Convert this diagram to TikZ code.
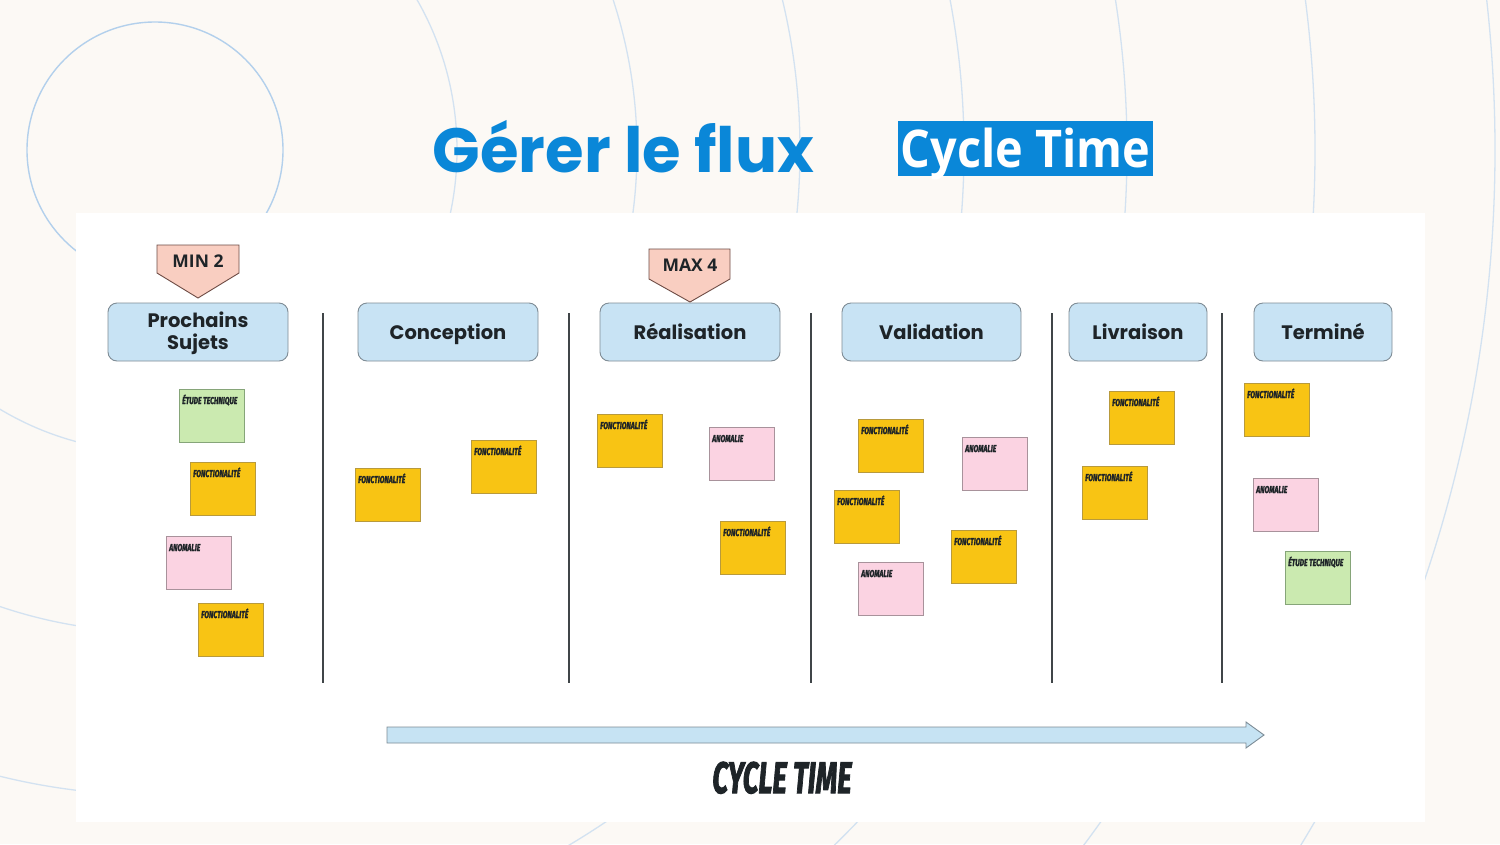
\documentclass[tikz,border=0pt]{standalone}
\usepackage{graphicx}
\usepackage{fontspec}
\setmainfont{Poppins}
\newfontfamily\osans{Open Sans}
\newfontfamily\heavy{Fira Sans}[FakeBold=2.5]
\definecolor{bg}{HTML}{FCF9F5}
\definecolor{titleblue}{HTML}{0A87D8}
\definecolor{arcc}{HTML}{D3E2F1}
\definecolor{arcdark}{HTML}{B3D0EC}
\definecolor{hdrfill}{HTML}{C8E3F4}
\definecolor{hdrline}{HTML}{7F8C95}
\definecolor{yel}{HTML}{F8C414}
\definecolor{yelline}{HTML}{B89A3C}
\definecolor{pnk}{HTML}{FBD3E2}
\definecolor{pnkline}{HTML}{A8929B}
\definecolor{grn}{HTML}{CBEAB0}
\definecolor{grnline}{HTML}{86A579}
\definecolor{pent}{HTML}{F9CEC1}
\definecolor{pentline}{HTML}{6E4C45}
\definecolor{arrfill}{HTML}{C6E3F3}
\definecolor{arrline}{HTML}{7D8C96}
\definecolor{ink}{HTML}{1E2428}
\newcommand\stickytxt[1]{\scalebox{0.68}[1]{\heavy\bfseries\itshape\fontsize{10}{10}\selectfont #1}}
\tikzset{
  hdr/.style={draw=hdrline, line width=0.9pt, fill=hdrfill, rounded corners=9pt,
    minimum height=58pt, inner sep=0pt, text=ink, align=center,
    font=\bfseries\fontsize{19.5}{22}\selectfont},
  hdrone/.style={hdr, text height=14pt, text depth=0pt},
  sticky/.style={minimum width=65pt, minimum height=53pt, inner sep=0pt,
    line width=0.9pt, anchor=north west},
  stlabel/.style={anchor=base west, inner sep=0pt, xshift=3pt, yshift=-15pt, text=ink},
  fnote/.style={sticky, fill=yel, draw=yelline,
    label={[stlabel]north west:\stickytxt{FONCTIONALITÉ}}},
  anote/.style={sticky, fill=pnk, draw=pnkline,
    label={[stlabel]north west:\stickytxt{ANOMALIE}}},
  enote/.style={sticky, fill=grn, draw=grnline,
    label={[stlabel]north west:\stickytxt{ÉTUDE TECHNIQUE}}},
  divider/.style={draw=ink!85, line width=1.5pt},
  pentagon/.style={draw=pentline, line width=0.9pt, fill=pent},
  pentlabel/.style={font=\osans\bfseries\fontsize{17.5}{18}\selectfont, text=ink, inner sep=0pt},
  ring/.style={draw=arcc, line width=1.3pt},
}
\begin{document}
\begin{tikzpicture}[x=1pt, y=-1pt]
\useasboundingbox (0,0) rectangle (1500,844);
\fill[bg] (0,0) rectangle (1500,844);
% background rings
\begin{scope}
  \clip (0,0) rectangle (1500,844);
  \draw[draw=arcdark, line width=1.4pt] (155,150) circle[radius=128];
  \foreach \r in {302,482,645,809,972,1160,1340}
    \draw[ring] (155,150) circle[radius=\r];
\end{scope}
% title
\node[anchor=base, text=titleblue, inner sep=0pt,
  font=\bfseries\fontsize{62.5}{62.5}\selectfont] (title) at (623.5,172) {Gérer le flux};
\node[fill=titleblue, minimum width=255pt, minimum height=55pt, inner sep=0pt] (ctbox) at (1025.5,148.5) {};
\node[anchor=base, text=white, inner sep=0pt] (cttext) at (1025.5,167)
  {\scalebox{0.9}[1]{\osans\bfseries\fontsize{52}{52}\selectfont Cycle Time}};
% panel
\fill[white] (76,213) rectangle (1425,822);
% headers
\node[hdr, minimum width=180pt, text depth=2pt] (h1) at (198,332) {Prochains\\[0pt]Sujets};
\node[hdrone, minimum width=180pt] (h2) at (448,332) {Conception};
\node[hdrone, minimum width=180pt] (h3) at (690,332) {Réalisation};
\node[hdrone, minimum width=179pt] (h4) at (931.5,332) {Validation};
\node[hdrone, minimum width=138pt] (h5) at (1138,332) {Livraison};
\node[hdrone, minimum width=138pt] (h6) at (1323,332) {Terminé};
% dividers
\foreach \x in {323,569,811,1052,1222}
  \draw[divider] (\x,313) -- (\x,683);
% WIP limits
\draw[pentagon] (157,245) -- (239,245) -- (239,273) -- (198,298) -- (157,273) -- cycle;
\node[pentlabel] (min) at (198,261) {MIN 2};
\draw[pentagon] (649,249) -- (730,249) -- (730,279) -- (690,302) -- (649,279) -- cycle;
\node[pentlabel] (max) at (690,265) {MAX 4};
% column 1
\node[enote] (c1a) at (179,389) {};
\node[fnote] (c1b) at (190,462) {};
\node[anote] (c1c) at (166,536) {};
\node[fnote] (c1d) at (198,603) {};
% column 2
\node[fnote] (c2a) at (355,468) {};
\node[fnote] (c2b) at (471,440) {};
% column 3
\node[fnote] (c3a) at (597,414) {};
\node[anote] (c3b) at (709,427) {};
\node[fnote] (c3c) at (720,521) {};
% column 4
\node[fnote] (c4a) at (858,419) {};
\node[anote] (c4b) at (962,437) {};
\node[fnote] (c4c) at (834,490) {};
\node[fnote] (c4d) at (951,530) {};
\node[anote] (c4e) at (858,562) {};
% column 5
\node[fnote] (c5a) at (1109,391) {};
\node[fnote] (c5b) at (1082,466) {};
% column 6
\node[fnote] (c6a) at (1244,383) {};
\node[anote] (c6b) at (1253,478) {};
\node[enote] (c6c) at (1285,551) {};
% cycle time arrow
\draw[draw=arrline, line width=0.9pt, fill=arrfill]
  (387,727) -- (1246,727) -- (1246,722) -- (1264,735) -- (1246,748) -- (1246,743) -- (387,743) -- cycle;
\node[anchor=base, text=ink, inner sep=0pt] (ct) at (782,793)
  {\scalebox{0.63}[1]{\heavy\bfseries\itshape\fontsize{44}{44}\selectfont CYCLE TIME}};
\end{tikzpicture}
\end{document}
